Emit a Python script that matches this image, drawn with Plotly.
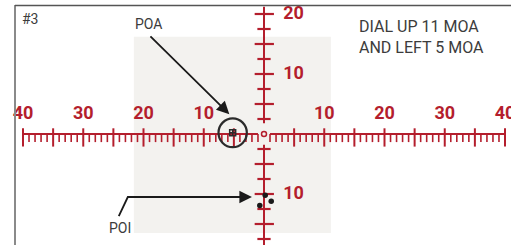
import plotly.graph_objects as go

# ---- data ----
h_major = [-40, -35, -30, -25, -20, -15, -10, -5, 5, 10, 15, 20, 25, 30, 35, 40]
h_minor = [v for v in range(-39, 40) if v % 5 != 0]
h_labels = [-40, -30, -20, -10, 10, 20, 30, 40]
h_label_text = ["40", "30", "20", "10", "10", "20", "30", "40"]
v_ticks = [-17.5, -15, -12.5, -10, -7.5, -5, -2.5, 2.5, 5, 7.5, 10, 12.5, 15, 17.5, 20]
v_labels = [20, 10, -10]
v_label_text = ["20", "10", "10"]
poa = [(-5.2, 0.2)]
poi_x = [-0.7, 1.2, 0.2]
poi_y = [-11.9, -11.2, -10.2]

RED = "#b41e2d"
DARK = "#2b2b2b"
TXT = "#3c3c3c"

W, H = 511, 245
X0, XS = 264, 6.025
Y0, YS = 134, 6.0
xr = [-X0 / XS, (W - X0) / XS]
yr = [(Y0 - H) / YS, Y0 / YS]

fig = go.Figure()

# gray background panel
fig.add_shape(type="rect", x0=-21.6, x1=11.1, y0=-16.5, y1=16.2,
              fillcolor="#f3f2ef", line_width=0, layer="below")

def segs(pairs):
    xs, ys = [], []
    for (a, b), (c, d) in pairs:
        xs += [a, c, None]
        ys += [b, d, None]
    return xs, ys

# horizontal ruler line
hx, hy = segs([((-40, 0), (-1, 0)), ((1, 0), (40, 0))])
fig.add_trace(go.Scatter(x=hx, y=hy, mode="lines", line=dict(color=RED, width=2),
                         hoverinfo="skip"))
# major ticks
mx, my = segs([((v, 0.95), (v, -2.1)) for v in h_major])
fig.add_trace(go.Scatter(x=mx, y=my, mode="lines", line=dict(color=RED, width=2),
                         hoverinfo="skip"))
# minor ticks
nx, ny = segs([((v, 0), (v, -1.35)) for v in h_minor])
fig.add_trace(go.Scatter(x=nx, y=ny, mode="lines", line=dict(color=RED, width=1.6),
                         hoverinfo="skip"))

# vertical ruler line
vx, vy = segs([((0, 1.8), (0, 21.2)), ((0, -1.8), (0, yr[0]))])
fig.add_trace(go.Scatter(x=vx, y=vy, mode="lines", line=dict(color=RED, width=2),
                         hoverinfo="skip"))
tx, ty = segs([((-1.55 if v % 5 == 0 else -1.1, v), (1.65 if v % 5 == 0 else 1.1, v))
               for v in v_ticks])
fig.add_trace(go.Scatter(x=tx, y=ty, mode="lines", line=dict(color=RED, width=2.2),
                         hoverinfo="skip"))

# center dot
fig.add_trace(go.Scatter(x=[0], y=[0], mode="markers",
                         marker=dict(symbol="circle-open", size=5, color=RED,
                                     line=dict(width=1.5, color=RED)),
                         hoverinfo="skip"))

# labels
fig.add_trace(go.Scatter(x=h_labels, y=[3.3] * len(h_labels), mode="text",
                         text=h_label_text, cliponaxis=False,
                         textfont=dict(family="Roboto", size=18, color=RED, weight="bold"),
                         hoverinfo="skip"))
fig.add_trace(go.Scatter(x=[3.2] * len(v_labels), y=v_labels, mode="text",
                         text=v_label_text, textposition="middle right", cliponaxis=False,
                         textfont=dict(family="Roboto", size=18, color=RED, weight="bold"),
                         hoverinfo="skip"))

# POA circle & mark
fig.add_shape(type="circle", x0=poa[0][0] - 2.35, x1=poa[0][0] + 2.35,
              y0=poa[0][1] - 2.4, y1=poa[0][1] + 2.4,
              line=dict(color=DARK, width=2.2))
fig.add_trace(go.Scatter(x=[poa[0][0]], y=[poa[0][1]], mode="markers",
                         marker=dict(symbol="square-cross-open", size=6, color=DARK,
                                     line=dict(width=1.5, color=DARK)),
                         hoverinfo="skip"))

# POI dots
fig.add_trace(go.Scatter(x=poi_x, y=poi_y, mode="markers",
                         marker=dict(size=5.5, color="#1a1a1a"), hoverinfo="skip"))

# arrows
fig.add_annotation(x=-5.75, y=3.3, ax=-19.1, ay=16.5, axref="x", ayref="y",
                   xref="x", yref="y", text="", showarrow=True, arrowhead=2,
                   arrowsize=1.4, arrowwidth=1.8, arrowcolor="#1a1a1a")
fig.add_trace(go.Scatter(x=[-24.1, -22.6, -3.0], y=[-13.7, -10.5, -10.5], mode="lines",
                         line=dict(color="#1a1a1a", width=1.8), hoverinfo="skip"))
fig.add_annotation(x=-2.0, y=-10.5, ax=-6.0, ay=-10.5, axref="x", ayref="y",
                   xref="x", yref="y", text="", showarrow=True, arrowhead=2,
                   arrowsize=1.4, arrowwidth=1.8, arrowcolor="#1a1a1a")

# frame
fig.add_shape(type="line", xref="paper", yref="paper", x0=15 / W, x1=15 / W,
              y0=0, y1=1 - 5 / H, line=dict(color="#8a8a8a", width=2))
fig.add_shape(type="line", xref="paper", yref="paper", x0=15 / W, x1=1,
              y0=1 - 5.5 / H, y1=1 - 5.5 / H, line=dict(color="#555555", width=1.5))

# texts
def txt(x, y, s, size, anchor="left"):
    fig.add_annotation(x=x, y=y, xref="paper", yref="paper", text=s, showarrow=False,
                       xanchor=anchor, yanchor="middle",
                       font=dict(family="Roboto", size=size, color=TXT))

txt(20 / W, 1 - 19.5 / H, "#3", 14)
txt(133 / W, 1 - 24 / H, "POA", 14)
txt(107 / W, 1 - 228 / H, "POI", 14)
fig.add_annotation(x=357 / W, y=1 - 37 / H, xref="paper", yref="paper",
                   text="DIAL UP 11 MOA<br>AND LEFT 5 MOA", showarrow=False,
                   xanchor="left", yanchor="middle", align="left",
                   font=dict(family="Roboto", size=16, color=TXT))

fig.update_layout(width=W, height=H, margin=dict(l=0, r=0, t=0, b=0),
                  plot_bgcolor="white", paper_bgcolor="white", showlegend=False,
                  xaxis=dict(range=xr, visible=False, fixedrange=True),
                  yaxis=dict(range=yr, visible=False, fixedrange=True))

fig.write_html("out.html", config={"displayModeBar": False},
               post_script="document.body.style.margin='0px';document.body.style.overflow='hidden';")
